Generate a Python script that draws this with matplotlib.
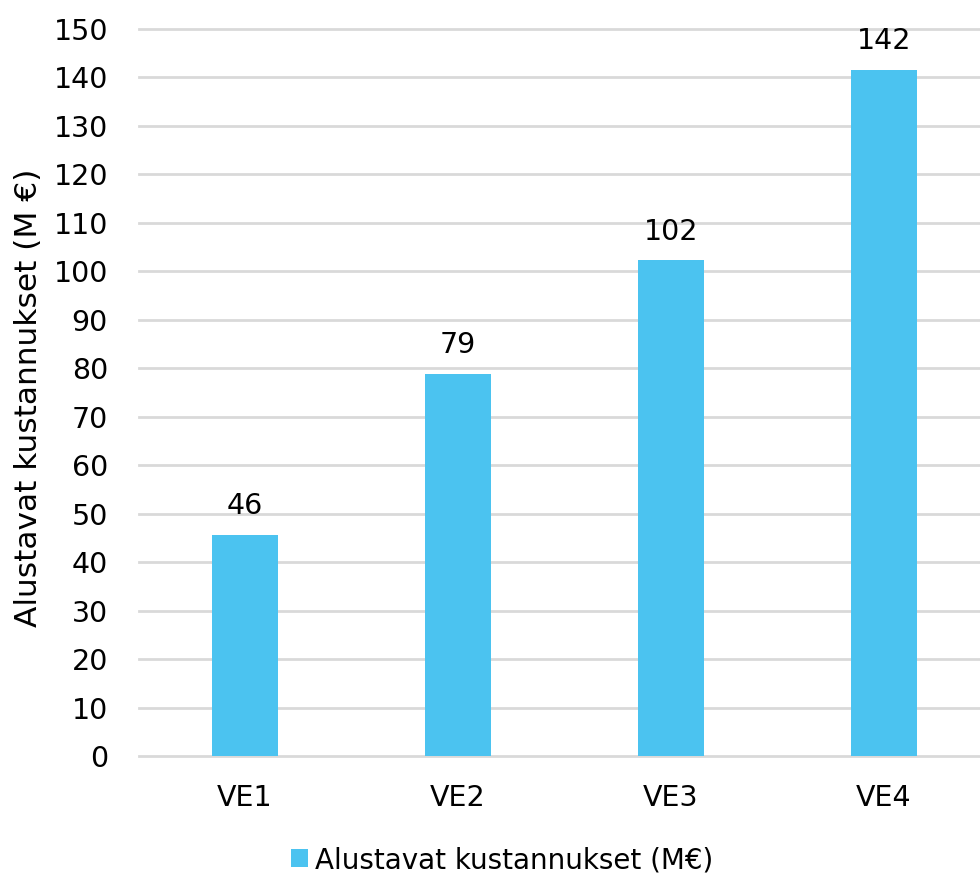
import matplotlib
matplotlib.use('Agg')
import matplotlib.pyplot as plt
from matplotlib.patches import Patch

# Costs per alternative (M EUR)
categories = ['VE1', 'VE2', 'VE3', 'VE4']
costs = [45.7, 78.9, 102.3, 141.6]
y_ticks = list(range(0, 151, 10))

bar_color = '#4BC3F0'
grid_color = '#D9D9D9'
fs = 20.5

plt.rcParams['font.family'] = ['DejaVu Sans']
fig = plt.figure(figsize=(9.8, 8.77), dpi=100)
ax = fig.add_axes([138.5 / 980, 1 - 756 / 877, 852 / 980, 727 / 877])

x = range(len(categories))
ax.bar(x, costs, width=0.31, color=bar_color, zorder=3)

for xi, v in zip(x, costs):
    ax.text(xi, v + 3.0, f'{v:.0f}', ha='center', va='bottom', fontsize=fs)

ax.set_xlim(-0.5, 3.5)
ax.set_ylim(0, 150)
ax.set_yticks(y_ticks)
ax.set_xticks(list(x))
ax.set_xticklabels(categories)
ax.tick_params(axis='both', length=0, labelsize=fs)
ax.tick_params(axis='y', pad=22)
ax.tick_params(axis='x', pad=20)
ax.yaxis.grid(True, color=grid_color, linewidth=2, zorder=0)
for gl in ax.get_ygridlines():
    gl.set_clip_on(False)
for s in ax.spines.values():
    s.set_visible(False)
ax.set_axisbelow(True)

ax.set_ylabel('Alustavat kustannukset (M €)', fontsize=22.5)
ax.yaxis.set_label_coords(-0.112, 0.4925)

handle = Patch(facecolor=bar_color, edgecolor='none')
fig.legend([handle], ['Alustavat kustannukset (M€)'], loc='center',
           bbox_to_anchor=(502 / 980, 1 - 860 / 877), frameon=False,
           fontsize=20, handlelength=0.63, handleheight=0.63, handletextpad=0.25)

fig.savefig('out.png', dpi=100)
